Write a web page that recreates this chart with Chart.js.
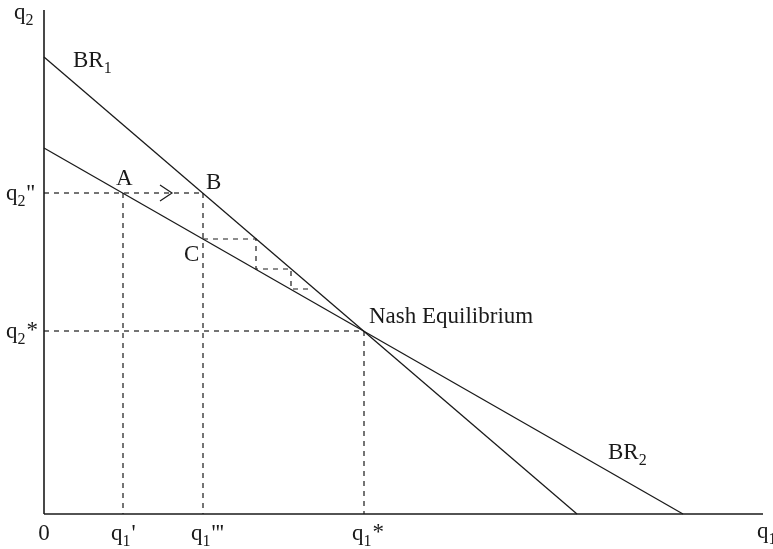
<!DOCTYPE html>
<html><head><meta charset="utf-8">
<script src="https://cdn.jsdelivr.net/npm/chart.js@4/dist/chart.umd.min.js"></script>
<style>html,body{margin:0;padding:0;background:#fff}</style>
</head><body>
<canvas id="c" width="773" height="549"></canvas>
<script>
// ---- data (model units) ----
const axisMax = [719, 504];
const br1Line = [[0, 457], [533, 0]];
const br2Line = [[0, 366], [639, 0]];
const pointA = [79, 321];
const pointB = [159, 321];
const pointC = [159, 275];
const nashPoint = [320, 183];
const cobwebSteps = [[159, 275], [212, 275], [212, 245], [247, 245], [247, 225], [268, 225]];
const arrowHead = [[116, 329], [128, 321], [116, 313]];
const xTickValues = [0, 79, 159, 320];
const xTickLabels = [['0', '', ''], ['q', '1', "'"], ['q', '1', "'''"], ['q', '1', '*']];
const yTickValues = [321, 183];
const yTickLabels = [['q', '2', "''"], ['q', '2', '*']];

const toPts = arr => arr.map(p => ({x: p[0], y: p[1]}));

const solid = (data, w) => ({data: toPts(data), showLine: true, borderColor: '#1a1a1a', borderWidth: w, pointRadius: 0, clip: false, fill: false, tension: 0});
const dashed = data => ({data: toPts(data), showLine: true, borderColor: '#1a1a1a', borderWidth: 1.2, borderDash: [5, 5], pointRadius: 0, clip: false, fill: false, tension: 0});

const datasets = [
  solid([[0, 0], [0, axisMax[1]]], 1.6),
  solid([[0, 0], [axisMax[0], 0]], 1.6),
  solid(br1Line, 1.3),
  solid(br2Line, 1.3),
  dashed([[0, pointA[1]], pointB]),
  dashed([pointA, [pointA[0], 0]]),
  dashed([pointB, [pointB[0], 0]]),
  dashed(cobwebSteps),
  dashed([[0, nashPoint[1]], nashPoint]),
  dashed([nashPoint, [nashPoint[0], 0]]),
  solid(arrowHead, 1.2)
];

const FONT = '"Liberation Serif", "Times New Roman", serif';
function rich(ctx, x, y, parts, size) {
  const [main, sub, sup] = parts;
  ctx.font = size + 'px ' + FONT;
  ctx.fillText(main, x, y);
  let cx = x + ctx.measureText(main).width;
  if (sub) {
    ctx.font = Math.round(size * 0.7) + 'px ' + FONT;
    ctx.fillText(sub, cx, y + 6);
    cx += ctx.measureText(sub).width + 1;
  }
  if (sup) {
    ctx.font = size + 'px ' + FONT;
    ctx.fillText(sup, cx, y - (sup === '*' ? 1 : 0));
  }
}

const labelPlugin = {
  id: 'labels',
  afterDraw(chart) {
    const ctx = chart.ctx, xs = chart.scales.x, ys = chart.scales.y;
    const X = v => xs.getPixelForValue(v), Y = v => ys.getPixelForValue(v);
    const S = 23;
    ctx.save();
    ctx.fillStyle = '#1a1a1a';
    ctx.textBaseline = 'alphabetic';
    ctx.textAlign = 'left';
    const bottom = chart.chartArea.bottom;
    xTickValues.forEach((v, i) => {
      const p = xTickLabels[i];
      if (p[0] === '0') { ctx.font = S + 'px ' + FONT; ctx.textAlign = 'center'; ctx.fillText('0', X(v), bottom + 26); ctx.textAlign = 'left'; }
      else rich(ctx, X(v) - 12, bottom + 26, p, S);
    });
    yTickValues.forEach((v, i) => rich(ctx, 6, Y(v) + 7, yTickLabels[i], S));
    // axis titles
    rich(ctx, 14, 19, ['q', '2', ''], S);
    rich(ctx, 757, bottom + 24, ['q', '1', ''], S);
    // curve and point labels
    rich(ctx, X(29), Y(447), ['BR', '1', ''], S);
    rich(ctx, X(564), Y(55), ['BR', '2', ''], S);
    rich(ctx, X(pointA[0]) - 7, Y(pointA[1]) - 8, ['A', '', ''], S);
    rich(ctx, X(pointB[0]) + 3, Y(pointB[1]) - 4, ['B', '', ''], S);
    rich(ctx, X(pointC[0]) - 19, Y(pointC[1]) - 22 + 44, ['C', '', ''], S);
    rich(ctx, X(nashPoint[0]) + 5, Y(nashPoint[1]) - 8, ['Nash Equilibrium', '', ''], S);
    ctx.restore();
  }
};

new Chart(document.getElementById('c'), {
  type: 'scatter',
  data: {datasets},
  options: {
    responsive: false,
    animation: false,
    layout: {padding: {left: 44, right: 10, top: 10, bottom: 35}},
    plugins: {legend: {display: false}, tooltip: {enabled: false}},
    scales: {
      x: {type: 'linear', min: 0, max: axisMax[0], display: false},
      y: {type: 'linear', min: 0, max: axisMax[1], display: false}
    }
  },
  plugins: [labelPlugin]
});
</script>
</body></html>
